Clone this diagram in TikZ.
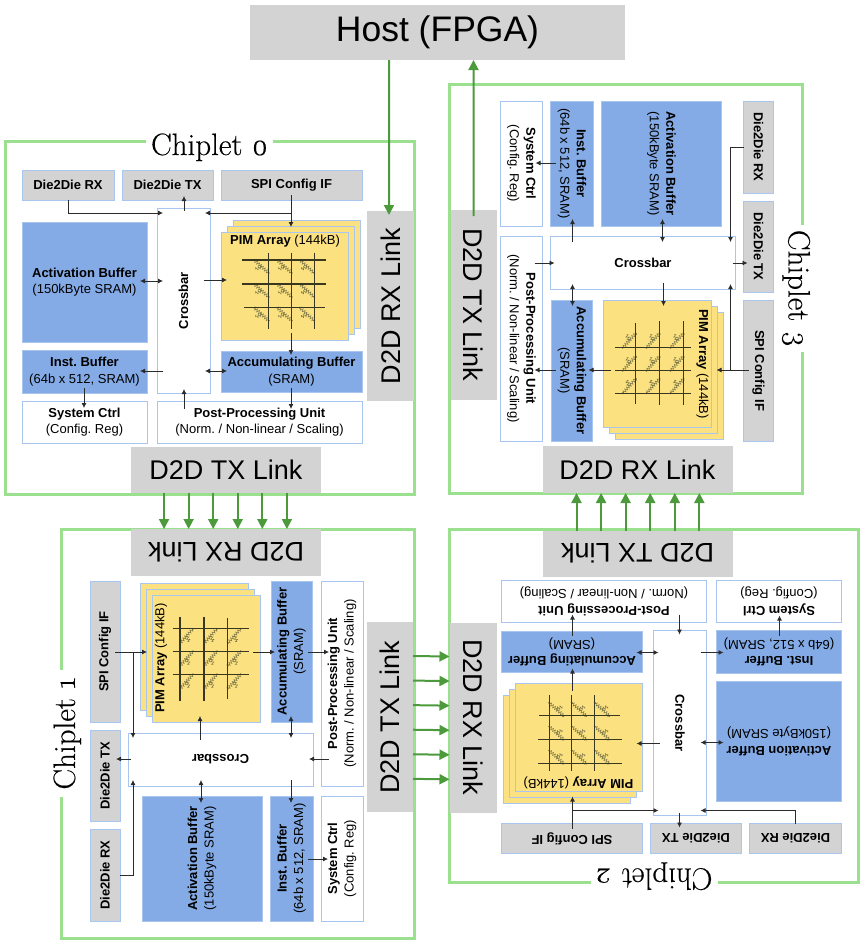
\documentclass[tikz,border=0pt]{standalone}
\usepackage{fontspec}
\setsansfont{Liberation Sans}
\newfontfamily\chipfont[Numbers=OldStyle,FakeBold=0.3]{Latin Modern Roman}
\frenchspacing
\usetikzlibrary{arrows.meta,calc,decorations.pathmorphing}
\definecolor{framegreen}{HTML}{9BE08F}
\definecolor{linkgreen}{HTML}{4C9A3C}
\definecolor{edgeblue}{HTML}{A9C6F0}
\definecolor{fillblue}{HTML}{84ABE6}
\definecolor{fillyellow}{HTML}{FBE17F}
\definecolor{fillgray}{HTML}{D3D3D3}
\definecolor{gridline}{HTML}{3A3720}
\definecolor{resline}{HTML}{7C7848}
\definecolor{conn}{HTML}{2B2B2B}
\tikzset{
  base/.style={inner sep=0pt,outer sep=0pt,align=center,font=\sffamily\fontsize{13}{16.5}\selectfont},
  grayblock/.style={base,draw=edgeblue,line width=1pt,fill=fillgray,font=\sffamily\bfseries\fontsize{13}{16.5}\selectfont},
  blueblock/.style={base,draw=edgeblue,line width=0.8pt,fill=fillblue},
  whiteblock/.style={base,draw=edgeblue,line width=1pt,fill=white},
  pimlayer/.style={base,draw=edgeblue,line width=1pt,fill=fillyellow},
  linkbox/.style={inner sep=0pt,outer sep=0pt,fill=fillgray,font=\sffamily\fontsize{27}{30}\selectfont},
  titletext/.style={inner sep=0pt,outer sep=0pt,fill=white,font=\chipfont\fontsize{31}{33}\selectfont},
  framebox/.style={draw=framegreen,line width=3pt},
  arr/.style={draw=conn,line width=0.8pt,-{Latex[length=5pt,width=5pt]}},
  arrboth/.style={draw=conn,line width=0.8pt,{Latex[length=5pt,width=5pt]}-{Latex[length=5pt,width=5pt]}},
  wire/.style={draw=conn,line width=0.8pt},
  greenarr/.style={draw=linkgreen,line width=2pt,-{Triangle[length=10pt,width=10pt]}},
  gridw/.style={draw=gridline,line width=1.1pt},
  resz/.style={draw=resline,line width=0.5pt,decorate,decoration={zigzag,amplitude=1.5pt,segment length=2.6pt}}
}
% box given by its corners, in the coordinates of chiplet 0
\newcommand{\blk}[7]{\node[#2,minimum width={(#5-#3)*1pt},minimum height={(#6-#4)*1pt}] (#1) at ({(#3+#5)/2},{(#4+#6)/2}) {#7};}
% chiplet #1 turned by #2 degrees round its centre (#3,#4)
\newcommand{\chiplet}[5]{%
\begin{scope}[shift={(#3,#4)},rotate=#2,transform shape]
\begin{scope}[shift={(-209.5,-317.5)}]
  \draw[framebox] (5,141) rectangle (414,494);
  \node[titletext,minimum width=127pt,anchor=base] (c#1title) at (209.5,155) {Chiplet #5};
  \blk{c#1drx}{grayblock}{22}{170}{114}{200}{Die2Die RX}
  \blk{c#1dtx}{grayblock}{122}{170}{213}{200}{Die2Die TX}
  \blk{c#1spi}{grayblock}{221}{170}{362}{200}{SPI Config IF}
  \blk{c#1act}{blueblock}{22}{222}{147}{342}{\textbf{Activation Buffer}\\(150kByte SRAM)}
  \blk{c#1inst}{blueblock}{22}{350}{147}{393}{\textbf{Inst. Buffer}\\(64b x 512, SRAM)}
  \blk{c#1sys}{whiteblock}{22}{401}{147}{443}{\textbf{System Ctrl}\\(Config. Reg)}
  \blk{c#1acc}{blueblock}{221}{351}{362}{392}{\textbf{Accumulating Buffer}\\(SRAM)}
  \blk{c#1post}{whiteblock}{157}{401}{362}{443}{\textbf{Post-Processing Unit}\\(Norm. / Non-linear / Scaling)}
  \node[whiteblock,rotate=90,minimum width=185pt,minimum height=53pt] (c#1xbar) at (183.5,300.5) {\textbf{Crossbar}};
  \blk{c#1pimc}{pimlayer}{233}{220}{360}{328}{}
  \blk{c#1pimb}{pimlayer}{227}{226}{354}{334}{}
  \blk{c#1pima}{pimlayer}{221}{232}{348}{340}{}
  \node[base,anchor=center] (c#1pimt) at (285,241) {\textbf{PIM Array} (144kB)};
  \foreach \vx in {268.7,291.7,314.3}{
    \foreach \hy in {260,284,307.7}{
      \draw[resz] (\vx-14.5,\hy) -- (\vx,\hy+13);
      \draw[resz] (\vx-13,\hy+9.3) -- (\vx-7,\hy+6.7);
      \fill[gridline] (\vx-14.5,\hy) circle (0.9pt) (\vx,\hy+13) circle (0.9pt);
    }
  }
  \draw[gridw] (242,260) -- (326,260) (242,284) -- (326,284) (244,307.7) -- (325,307.7);
  \draw[gridw] (268.7,252.7) -- (268.7,329) (291.7,252.7) -- (291.7,329) (314.3,252.7) -- (314.3,329);
  \coordinate (c#1k1) at (68,200);
  \coordinate (c#1k2) at (68,213);
  \coordinate (c#1k3) at (163,213);
  \coordinate (c#1k4) at (184,211);
  \coordinate (c#1k5) at (184,196);
  \coordinate (c#1k6) at (291,195);
  \coordinate (c#1k7) at (291,227);
  \coordinate (c#1k8) at (291,213);
  \coordinate (c#1k9) at (205,213);
  \coordinate (c#1m1) at (203.5,280);
  \coordinate (c#1m2) at (227,280);
  \coordinate (c#1m3) at (140,281);
  \coordinate (c#1m4) at (163,281);
  \coordinate (c#1m5) at (163,371);
  \coordinate (c#1m6) at (140,371);
  \coordinate (c#1m7) at (205,371);
  \coordinate (c#1m8) at (227,371);
  \coordinate (c#1n1) at (291,333);
  \coordinate (c#1n2) at (291,355);
  \coordinate (c#1n3) at (291,388);
  \coordinate (c#1n4) at (291,409);
  \coordinate (c#1n5) at (84,388);
  \coordinate (c#1n6) at (84,408);
  \coordinate (c#1n7) at (184,409);
  \coordinate (c#1n8) at (184,389);
  \draw[arr] (c#1k1) -- (c#1k2) -- (c#1k3);
  \draw[arr] (c#1k4) -- (c#1k5);
  \draw[arr] (c#1k6) -- (c#1k7);
  \draw[arr] (c#1k8) -- (c#1k9);
  \draw[arr] (c#1m1) -- (c#1m2);
  \draw[arrboth] (c#1m3) -- (c#1m4);
  \draw[arr] (c#1m5) -- (c#1m6);
  \draw[arrboth] (c#1m7) -- (c#1m8);
  \draw[arr] (c#1n1) -- (c#1n2);
  \draw[arr] (c#1n3) -- (c#1n4);
  \draw[arr] (c#1n5) -- (c#1n6);
  \draw[arr] (c#1n7) -- (c#1n8);
  \node[linkbox,rotate=90,minimum width=190pt,minimum height=47pt] (c#1rxl) at (390.5,306) {D2D RX Link};
  \node[linkbox,minimum width=190pt,minimum height=46pt] (c#1txl) at (226,470) {D2D TX Link};
\end{scope}
\end{scope}}
\begin{document}
\begin{tikzpicture}[x=1pt,y=-1pt]
\useasboundingbox (0,0) rectangle (865,943);
\chiplet{0}{0}{209.5}{317.5}{0}
\chiplet{1}{90}{237.5}{733.5}{1}
\chiplet{2}{180}{654}{706}{2}
\chiplet{3}{270}{626}{288.5}{3}
\node[inner sep=0pt,outer sep=0pt,fill=fillgray,minimum width=375pt,minimum height=55pt,font=\sffamily\fontsize{35.5}{38}\selectfont] (host) at (437.5,32.5) {Host (FPGA)};
% host links
\draw[greenarr,shorten >=-4pt] ($(host.south west)!0.371!(host.south east)$) -- ($(c0rxl.north east)!0.468!(c0rxl.south east)$);
\draw[greenarr,shorten <=-6pt] (c3txl.west) -- ($(host.south west)!0.596!(host.south east)$);
% chiplet to chiplet links
\foreach \f in {0,1,...,5}{
  \draw[greenarr] ($(c0txl.south west)!{0.174+\f*0.1293}!(c0txl.south east)$) -- ($(c1rxl.south east)!{0.174+\f*0.1293}!(c1rxl.south west)$);
  \draw[greenarr] ($(c1txl.south east)!{0.179+\f*0.1293}!(c1txl.south west)$) -- ($(c2rxl.south west)!{0.179+\f*0.1293}!(c2rxl.south east)$);
  \draw[greenarr] ($(c2txl.south east)!{0.179+\f*0.1293}!(c2txl.south west)$) -- ($(c3rxl.south west)!{0.179+\f*0.1293}!(c3rxl.south east)$);
}
\end{tikzpicture}
\end{document}
